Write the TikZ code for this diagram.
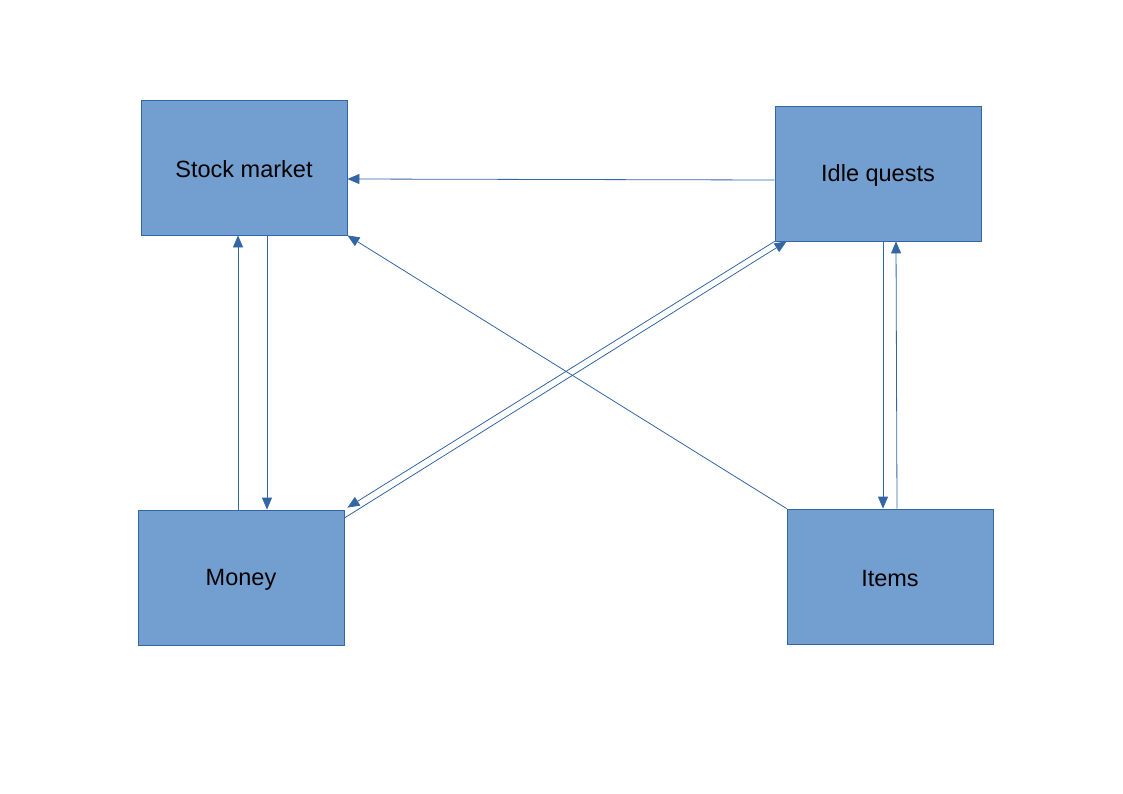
\documentclass[tikz,border=0pt]{standalone}
\usepackage{fontspec}
\setmainfont{Liberation Sans}
\usetikzlibrary{arrows.meta,calc}
\definecolor{boxfill}{HTML}{729FCF}
\definecolor{boxline}{HTML}{3465A4}
\newcommand{\boxtext}[1]{\raisebox{0pt}[\dimexpr\height+4pt\relax][\depth]{#1}}
\begin{document}
\begin{tikzpicture}[x=1pt,y=-1pt,
  box/.style={draw=boxline,fill=boxfill,line width=0.8pt,minimum width=206pt,minimum height=135pt,inner sep=0pt,font=\fontsize{23.5}{28}\selectfont},
  link/.style={draw=boxline,line width=0.8pt,-{Triangle[length=12pt,width=10pt]}}]
\useasboundingbox (0,0) rectangle (1123,794);
\node[box] (sm) at (244,167.5) {\boxtext{Stock market}};
\node[box] (iq) at (878,173.5) {\boxtext{Idle quests}};
\node[box] (mo) at (241,577.5) {\boxtext{Money}};
\node[box] (it) at (890,576.5) {\boxtext{Items}};
% Idle quests -> Stock market
\draw[link] (iq.west |- 0,180) -- (sm.east |- 0,179);
% Money <-> Stock market
\draw[link] (238,0 |- mo.north) -- (238,0 |- sm.south);
\draw[link] (267,0 |- sm.south) -- (267,0 |- mo.north);
% Items -> Stock market
\draw[link] (it.north west) -- (sm.south east);
% Idle quests -> Money
\draw[link] (iq.south west) -- ($(mo.north east)+(3,-2)$);
% Money -> Idle quests
\draw[link] ($(mo.east)+(0,-59.5)$) -- ($(iq.south west)+(12,0)$);
% Idle quests <-> Items
\draw[link] (883,0 |- iq.south) -- (883,0 |- it.north);
\draw[link] (897,0 |- it.north) -- (896,0 |- iq.south);
\end{tikzpicture}
\end{document}
